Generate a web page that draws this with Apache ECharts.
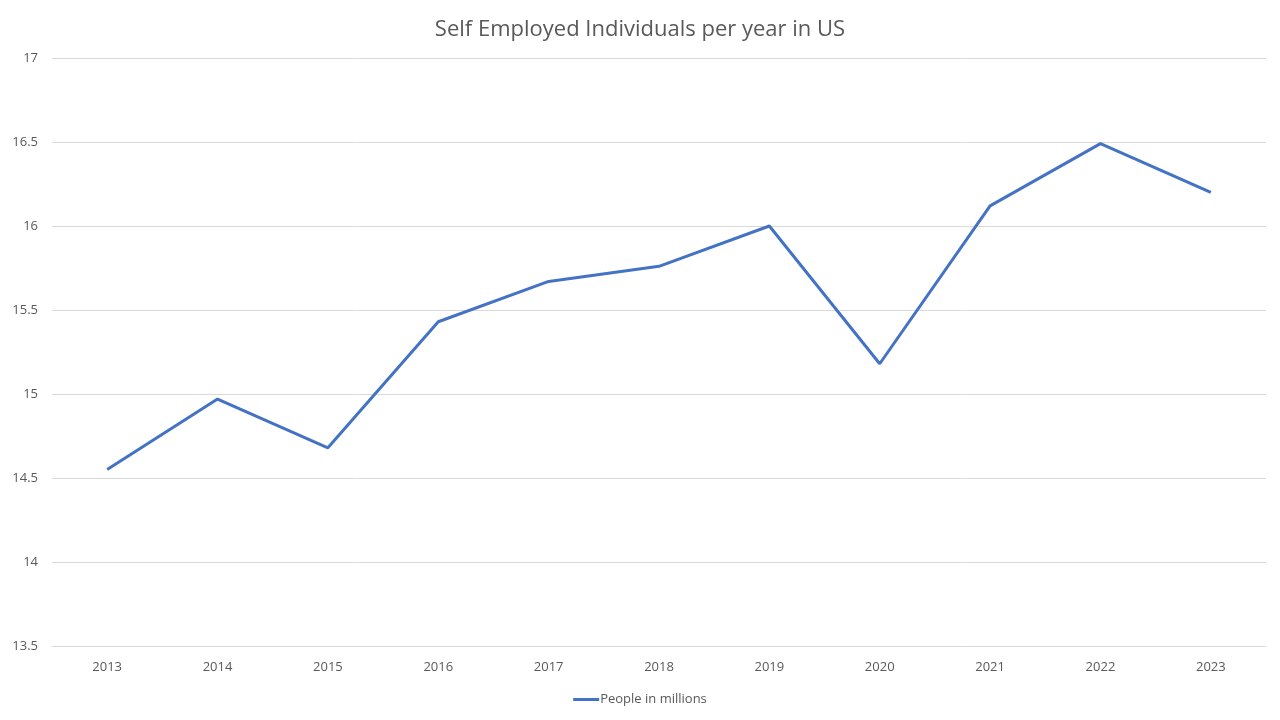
<!DOCTYPE html>
<html><head><meta charset="utf-8">
<script src="https://cdn.jsdelivr.net/npm/echarts@6/dist/echarts.min.js"></script>
<style>html,body{margin:0;padding:0;background:#fff}#c{width:1280px;height:720px}</style>
</head><body><div id="c"></div>
<script>
const categories = ['2013','2014','2015','2016','2017','2018','2019','2020','2021','2022','2023'];
const peopleInMillions = [14.55, 14.97, 14.68, 15.43, 15.67, 15.76, 16.00, 15.18, 16.12, 16.49, 16.20];
const seriesName = 'People in millions';
const titleText = 'Self Employed Individuals per year in US';

const chart = echarts.init(document.getElementById('c'));
chart.setOption({
  animation: false,
  backgroundColor: '#ffffff',
  title: {
    text: titleText, left: 'center', top: 14,
    textStyle: { fontFamily: 'Open Sans', fontSize: 22, fontWeight: 'normal', color: '#595959' }
  },
  legend: {
    bottom: 9, left: 'center', itemWidth: 26, itemHeight: 3, itemGap: 10,
    icon: 'rect',
    textStyle: { fontFamily: 'Open Sans', fontSize: 13, color: '#595959', padding: [0,0,0,-4] },
    data: [seriesName]
  },
  grid: { left: 52, right: 14, top: 58, bottom: 74, containLabel: false },
  xAxis: {
    type: 'category', data: categories, boundaryGap: true,
    axisLine: { show: true, lineStyle: { color: '#d9d9d9' } },
    axisTick: { show: false },
    axisLabel: { fontFamily: 'Open Sans', fontSize: 13, color: '#595959', margin: 15 }
  },
  yAxis: {
    type: 'value', min: 13.5, max: 17, interval: 0.5,
    axisLine: { show: false }, axisTick: { show: false },
    splitLine: { lineStyle: { color: '#d9d9d9' } },
    axisLabel: { fontFamily: 'Open Sans', fontSize: 13, color: '#595959', margin: 14 }
  },
  series: [{
    name: seriesName, type: 'line', data: peopleInMillions,
    showSymbol: false, symbol: 'none',
    lineStyle: { color: '#4472c4', width: 3 },
    itemStyle: { color: '#4472c4' }
  }]
});
</script></body></html>
